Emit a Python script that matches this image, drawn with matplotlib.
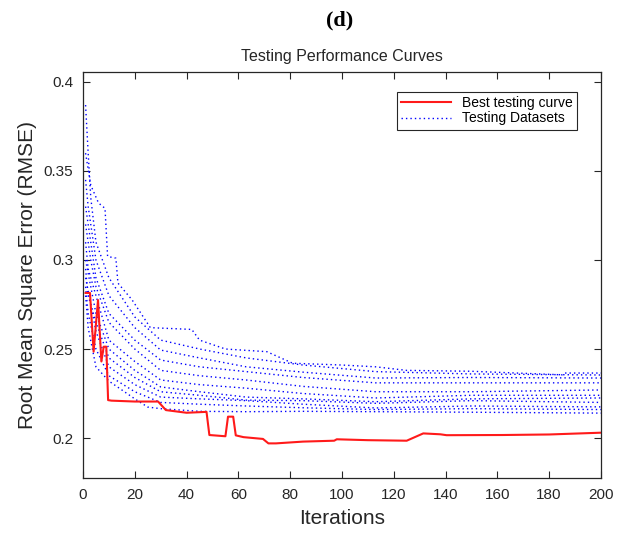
import matplotlib
matplotlib.use('Agg')
import matplotlib.pyplot as plt

plt.rcParams['font.family'] = ['Liberation Sans', 'DejaVu Sans']

# best testing curve (red)
best_x = [1, 2.7, 4.1, 5.8, 7.1, 8, 9, 9.7, 11, 20, 29, 32, 40, 47.7, 48.8, 55, 56, 58, 59, 62,
          69.5, 71.6, 74.5, 85, 97, 98, 110, 125, 131.4, 138, 140.4, 162, 180, 192, 200]
best_y = [0.2815, 0.2815, 0.2485, 0.2775, 0.243, 0.2513, 0.2513, 0.2213, 0.221, 0.2205, 0.2205,
          0.2157, 0.2142, 0.2147, 0.2017, 0.201, 0.212, 0.212, 0.2015, 0.2005,
          0.1995, 0.197, 0.197, 0.198, 0.1985, 0.1993, 0.1988, 0.1985, 0.2026, 0.2021, 0.2016,
          0.2017, 0.202, 0.2026, 0.203]

# testing datasets (blue dotted)
test_x = [
    [1, 3, 6, 8.5, 9.5, 12.7, 13.5, 19, 26, 42, 45, 55, 71, 81, 100, 113, 125, 150, 185, 186, 200],
    [1, 2, 3, 5, 10, 20, 30, 45, 63, 85, 113, 150, 200],
    [1, 2, 5, 10, 20, 30, 45, 63, 85, 113, 150, 200],
    [1, 3, 5, 10, 20, 30, 45, 63, 85, 113, 150, 200],
    [1, 3, 5, 10, 20, 30, 45, 63, 85, 113, 150, 200],
    [1, 2, 5, 10, 20, 30, 45, 63, 85, 113, 150, 200],
    [1, 3, 5, 10, 20, 30, 45, 63, 85, 113, 150, 200],
    [1, 2, 5, 10, 20, 30, 45, 63, 85, 113, 150, 200],
    [1, 3, 5, 10, 20, 30, 45, 63, 85, 113, 150, 200],
    [1, 2, 5, 10, 20, 30, 45, 63, 85, 113, 150, 200],
    [1, 2, 5, 10, 20, 25, 30, 45, 63, 85, 113, 150, 200],
]
test_y = [
    [0.36, 0.342, 0.332, 0.329, 0.302, 0.301, 0.287, 0.2775, 0.262, 0.261, 0.255, 0.25, 0.2485,
     0.242, 0.241, 0.240, 0.238, 0.2375, 0.2355, 0.2365, 0.2365],
    [0.387, 0.36, 0.335, 0.31, 0.29, 0.268, 0.255, 0.25, 0.245, 0.241, 0.2373, 0.236, 0.2354],
    [0.345, 0.33, 0.30, 0.28, 0.262, 0.2494, 0.245, 0.240, 0.237, 0.2337, 0.234, 0.2337],
    [0.33, 0.31, 0.29, 0.27, 0.255, 0.2438, 0.24, 0.2373, 0.234, 0.231, 0.231, 0.231],
    [0.32, 0.30, 0.285, 0.265, 0.25, 0.238, 0.235, 0.2326, 0.229, 0.226, 0.226, 0.227],
    [0.31, 0.295, 0.28, 0.255, 0.243, 0.2326, 0.23, 0.228, 0.225, 0.2225, 0.224, 0.224],
    [0.30, 0.285, 0.27, 0.25, 0.238, 0.2287, 0.226, 0.223, 0.222, 0.2204, 0.222, 0.2225],
    [0.295, 0.28, 0.265, 0.245, 0.234, 0.226, 0.224, 0.2213, 0.221, 0.2195, 0.221, 0.220],
    [0.29, 0.275, 0.26, 0.24, 0.23, 0.223, 0.222, 0.221, 0.219, 0.2169, 0.218, 0.2175],
    [0.285, 0.27, 0.25, 0.235, 0.226, 0.220, 0.219, 0.218, 0.217, 0.216, 0.2165, 0.216],
    [0.28, 0.262, 0.24, 0.232, 0.222, 0.2174, 0.2165, 0.215, 0.2148, 0.215, 0.2148, 0.2145, 0.214],
]

fig = plt.figure(figsize=(6.24, 5.33), dpi=100)
ax = fig.add_axes([0.133, 0.103, 0.830, 0.762])

for i in range(len(test_x)):
    ax.plot(test_x[i], test_y[i], color='#0000ff', linestyle=(0, (1, 2.2)), linewidth=1.0,
            label='Testing Datasets' if i == 0 else None)
ax.plot(best_x, best_y, color='#ff1a1a', linewidth=1.5, label='Best testing curve')

ax.set_xlim(0, 200)
ax.set_ylim(0.1775, 0.4056)
ax.set_xticks(range(0, 201, 20))
ax.set_yticks([0.2, 0.25, 0.3, 0.35, 0.4])
ax.set_yticklabels(['0.2', '0.25', '0.3', '0.35', '0.4'])
ax.tick_params(direction='in', top=True, right=True, length=5, width=0.8,
               labelsize=11, colors='#262626', pad=7)
for s in ax.spines.values():
    s.set_color('#262626')
    s.set_linewidth(0.9)

ax.set_xlabel('Iterations', fontsize=15, color='#262626', labelpad=5)
ax.set_ylabel('Root Mean Square Error (RMSE)', fontsize=15, color='#262626', labelpad=5)
ax.set_title('Testing Performance Curves', fontsize=11.5, color='#262626', pad=8)
fig.text(0.545, 0.962, '(d)', fontsize=16, fontweight='bold', family='Liberation Serif',
         ha='center', va='center')

handles, labels = ax.get_legend_handles_labels()
leg = ax.legend(handles[::-1], labels[::-1], loc='upper right', bbox_to_anchor=(0.967, 0.968),
                fontsize=10, fancybox=False, framealpha=1, edgecolor='#262626',
                borderpad=0.3, handlelength=3.6, labelspacing=0.1)
leg.get_frame().set_linewidth(0.8)

fig.savefig('out.png', dpi=100)
